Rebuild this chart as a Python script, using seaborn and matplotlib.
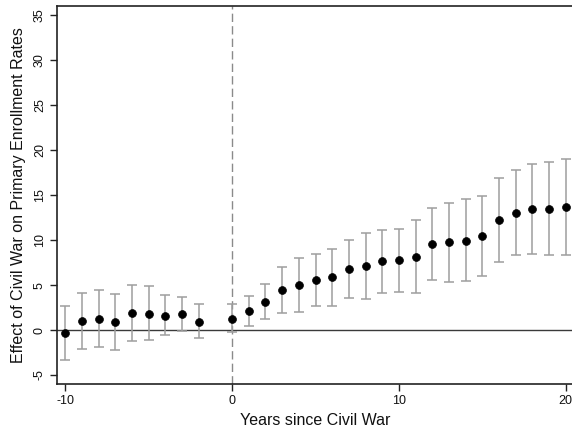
import matplotlib
matplotlib.use("Agg")
import matplotlib.pyplot as plt
import seaborn as sns
import pandas as pd

# Event-study estimates: years relative to civil war onset (year -1 is the omitted reference)
years = [-10, -9, -8, -7, -6, -5, -4, -3, -2,
         0, 1, 2, 3, 4, 5, 6, 7, 8, 9, 10,
         11, 12, 13, 14, 15, 16, 17, 18, 19, 20]
estimate = [-0.33, 0.96, 1.26, 0.89, 1.85, 1.81, 1.59, 1.74, 0.92,
            1.28, 2.14, 3.11, 4.44, 5.0, 5.55, 5.85, 6.81, 7.11, 7.63, 7.74,
            8.16, 9.59, 9.78, 9.96, 10.44, 12.22, 13.07, 13.44, 13.52, 13.67]
ci_upper = [2.7, 4.1, 4.5, 4.0, 5.03, 4.92, 3.85, 3.63, 2.85,
            2.85, 3.81, 5.07, 7.03, 8.07, 8.5, 9.07, 10.0, 10.85, 11.18, 11.26,
            12.23, 13.59, 14.18, 14.55, 14.96, 16.89, 17.85, 18.48, 18.74, 19.0]
ci_lower = [-3.3, -2.15, -1.86, -2.19, -1.22, -1.15, -0.6, -0.08, -0.93,
            -0.26, 0.44, 1.18, 1.85, 1.96, 2.63, 2.7, 3.59, 3.44, 4.14, 4.26,
            4.1, 5.59, 5.4, 5.48, 5.96, 7.59, 8.33, 8.44, 8.33, 8.33]

x_ticks = [-10, 0, 10, 20]
y_ticks = [-5, 0, 5, 10, 15, 20, 25, 30, 35]

df = pd.DataFrame({"year": years, "est": estimate, "hi": ci_upper, "lo": ci_lower})

sns.set_style("white")
plt.rcParams["font.family"] = ["Liberation Sans", "DejaVu Sans"]
plt.rcParams["text.color"] = "#111111"
plt.rcParams["axes.labelcolor"] = "#111111"
plt.rcParams["xtick.color"] = "#111111"
plt.rcParams["ytick.color"] = "#111111"

fig = plt.figure(figsize=(5.72, 4.29), dpi=100)
ax = fig.add_axes([57 / 572, 45 / 429, 517 / 572, 378.5 / 429])

ax.axhline(0, color="#3a3a3a", lw=1.0, zorder=1)
ax.axvline(0, color="#8a8a8a", lw=1.0, ls=(0, (6, 3)), zorder=1)

ax.errorbar(df["year"], df["est"],
            yerr=[df["est"] - df["lo"], df["hi"] - df["est"]],
            fmt="none", ecolor="#9e9e9e", elinewidth=1.1, capsize=3.6,
            capthick=1.1, zorder=2)
sns.scatterplot(data=df, x="year", y="est", ax=ax, color="black",
                s=32, edgecolor="black", linewidth=0.5, zorder=3, legend=False)

ax.set_xlim(-10.5, 20.5)
ax.set_ylim(-6, 36.1)
ax.set_xticks(x_ticks)
ax.set_yticks(y_ticks)
ax.set_xticklabels([str(t) for t in x_ticks], fontsize=9)
ax.set_yticklabels([str(t) for t in y_ticks], fontsize=9, rotation=90, va="center")
ax.tick_params(axis="both", direction="out", length=5, width=1, color="#222222",
               bottom=True, left=True, pad=3)
for side in ["top", "bottom", "left", "right"]:
    ax.spines[side].set_color("#222222")
    ax.spines[side].set_linewidth(1.2)

ax.set_xlabel("Years since Civil War", fontsize=11.5, labelpad=4)
ax.set_ylabel("Effect of Civil War on Primary Enrollment Rates", fontsize=11.5, labelpad=6)

fig.savefig("out.png", dpi=100, facecolor="white")
